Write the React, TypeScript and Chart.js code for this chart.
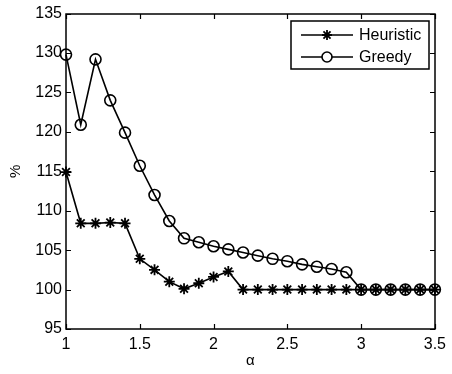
import React, { useEffect, useRef } from "react";
import { Chart, registerables } from "chart.js";
Chart.register(...registerables);

const alpha = [1, 1.1, 1.2, 1.3, 1.4, 1.5, 1.6, 1.7, 1.8, 1.9, 2, 2.1, 2.2, 2.3, 2.4, 2.5, 2.6, 2.7, 2.8, 2.9, 3, 3.1, 3.2, 3.3, 3.4, 3.5];
const heuristic = [114.9, 108.4, 108.4, 108.5, 108.4, 103.9, 102.5, 101.0, 100.1, 100.8, 101.6, 102.3, 100, 100, 100, 100, 100, 100, 100, 100, 100, 100, 100, 100, 100, 100];
const greedy = [129.8, 120.9, 129.2, 124.0, 119.9, 115.7, 112.0, 108.7, 106.5, 106.0, 105.5, 105.1, 104.7, 104.3, 103.9, 103.6, 103.2, 102.9, 102.6, 102.2, 100, 100, 100, 100, 100, 100];
const xTicks = [1, 1.5, 2, 2.5, 3, 3.5];
const yTicks = [95, 100, 105, 110, 115, 120, 125, 130, 135];
const seriesNames = ["Heuristic", "Greedy"];
const xLabel = "α";
const yLabel = "%";

const FONT = "'Liberation Sans', Arial, Helvetica, sans-serif";

const framePlugin = {
  id: "frame",
  afterDraw(chart: any) {
    const ctx = chart.ctx;
    const a = chart.chartArea;
    const xs = chart.scales.x;
    const ys = chart.scales.y;
    const L = Math.round(a.left);
    const R = Math.round(a.right);
    const T = Math.round(a.top);
    const B = Math.round(a.bottom);
    ctx.save();
    ctx.strokeStyle = "#000";
    ctx.lineWidth = 1.5;
    ctx.strokeRect(L, T, R - L, B - T);
    const tl = 5;
    ctx.lineWidth = 1.2;
    ctx.beginPath();
    xTicks.forEach((v) => {
      const px = Math.round(xs.getPixelForValue(v)) + 0.5;
      ctx.moveTo(px, B);
      ctx.lineTo(px, B - tl);
      ctx.moveTo(px, T);
      ctx.lineTo(px, T + tl);
    });
    yTicks.forEach((v) => {
      const py = Math.round(ys.getPixelForValue(v)) + 0.5;
      ctx.moveTo(L, py);
      ctx.lineTo(L + tl, py);
      ctx.moveTo(R, py);
      ctx.lineTo(R - tl, py);
    });
    ctx.stroke();

    // legend
    const bx = 291, by = 21, bw = 138, bh = 48;
    ctx.lineWidth = 1.5;
    ctx.fillStyle = "#fff";
    ctx.fillRect(bx, by, bw, bh);
    ctx.strokeRect(bx, by, bw, bh);
    const rows = [by + 14, by + 36];
    ctx.font = "16px " + FONT;
    ctx.textBaseline = "middle";
    ctx.textAlign = "left";
    seriesNames.forEach((name, i) => {
      const y = Math.round(rows[i]);
      ctx.lineWidth = 1.6;
      ctx.beginPath();
      ctx.moveTo(301, y);
      ctx.lineTo(353, y);
      ctx.stroke();
      const cx = 327;
      ctx.beginPath();
      if (i === 0) {
        const r = 5;
        ctx.lineWidth = 1.8;
        for (let k = 0; k < 4; k++) {
          const ang = (k * Math.PI) / 4;
          ctx.moveTo(cx + r * Math.cos(ang), y + r * Math.sin(ang));
          ctx.lineTo(cx - r * Math.cos(ang), y - r * Math.sin(ang));
        }
        ctx.stroke();
      } else {
        ctx.lineWidth = 1.6;
        ctx.arc(cx, y, 5, 0, Math.PI * 2);
        ctx.fillStyle = "#fff";
        ctx.fill();
        ctx.stroke();
      }
      ctx.fillStyle = "#000";
      ctx.fillText(name, 359, y + 1);
    });
    ctx.restore();
  },
};

export default function App() {
  const ref = useRef<HTMLCanvasElement | null>(null);
  useEffect(() => {
    if (!ref.current) return;
    const chart = new Chart(ref.current, {
      type: "line",
      data: {
        datasets: [
          {
            label: seriesNames[1],
            data: alpha.map((x, i) => ({ x, y: greedy[i] })),
            borderColor: "#000",
            borderWidth: 1.6,
            pointStyle: "circle",
            pointRadius: 5.5,
            pointBorderColor: "#000",
            pointBackgroundColor: "rgba(0,0,0,0)",
            pointBorderWidth: 1.6,
            tension: 0,
            clip: false,
          },
          {
            label: seriesNames[0],
            data: alpha.map((x, i) => ({ x, y: heuristic[i] })),
            borderColor: "#000",
            borderWidth: 1.6,
            pointStyle: "star",
            pointRadius: 5.5,
            pointBorderColor: "#000",
            pointBackgroundColor: "#000",
            pointBorderWidth: 1.8,
            tension: 0,
            clip: false,
          },
        ],
      },
      options: {
        animation: false,
        responsive: false,
        events: [],
        layout: { padding: { top: 13, right: 14, left: 0, bottom: 0 } },
        plugins: { legend: { display: false }, tooltip: { enabled: false } },
        scales: {
          x: {
            type: "linear",
            min: 1,
            max: 3.5,
            grid: { display: false, drawTicks: false },
            border: { display: false },
            afterBuildTicks: (s: any) => {
              s.ticks = xTicks.map((v) => ({ value: v }));
            },
            afterFit: (s: any) => {
              s.height = 45;
            },
            ticks: {
              color: "#000",
              font: { family: FONT, size: 16 },
              padding: 6,
              maxRotation: 0,
              autoSkip: false,
              callback: (v: any) => String(v),
            },
            title: {
              display: true,
              text: xLabel,
              color: "#000",
              font: { family: FONT, size: 15 },
              padding: { top: 0, bottom: 4 },
            },
          },
          y: {
            type: "linear",
            min: 95,
            max: 135,
            grid: { display: false, drawTicks: false },
            border: { display: false },
            afterBuildTicks: (s: any) => {
              s.ticks = yTicks.map((v) => ({ value: v }));
            },
            afterFit: (s: any) => {
              s.width = 66;
            },
            ticks: {
              color: "#000",
              font: { family: FONT, size: 16 },
              padding: 4,
              autoSkip: false,
              callback: (v: any) => String(v),
            },
            title: {
              display: true,
              text: yLabel,
              color: "#000",
              font: { family: FONT, size: 15 },
              padding: { top: 7, bottom: 0 },
            },
          },
        },
      },
      plugins: [framePlugin],
    } as any);
    return () => chart.destroy();
  }, []);
  return (
    <div style={{ position: "fixed", left: 0, top: 0, width: 452, height: 374, background: "#fff" }}>
      <canvas ref={ref} width={452} height={374} style={{ width: 452, height: 374, display: "block" }} />
    </div>
  );
}
